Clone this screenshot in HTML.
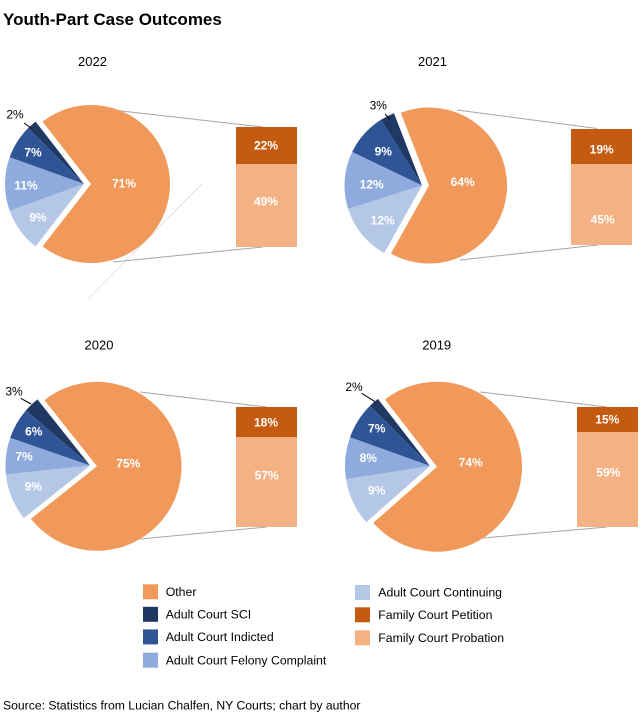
<!DOCTYPE html>
<html>
<head>
<meta charset="utf-8">
<style>
html,body{margin:0;padding:0;background:#fff;}
svg{display:block;}
text{font-family:"Liberation Sans",Arial,sans-serif;}
.t{font-size:12px;font-weight:bold;fill:#fff;text-anchor:middle;}
.k{font-size:12px;fill:#000;text-anchor:middle;}
.y{font-size:13px;fill:#000;text-anchor:middle;}
.lg{font-size:12.3px;fill:#000;}
.cl{stroke:#a6a6a6;stroke-width:1;fill:none;}
.ld{stroke:#000;stroke-width:1;}
</style>
</head>
<body>
<svg width="640" height="724" viewBox="0 0 640 724" xmlns="http://www.w3.org/2000/svg">
<rect width="640" height="724" fill="#fff"/>
<text x="3" y="25" style="font-size:17px;font-weight:bold;fill:#000;">Youth-Part Case Outcomes</text>

<!-- faint artifact line -->
<line x1="203" y1="183" x2="87" y2="300" stroke="#dcdcdc" stroke-width="0.8"/>

<!-- ============ 2022 ============ -->
<text class="y" x="92.5" y="66">2022</text>
<line class="cl" x1="113" y1="110" x2="263" y2="127"/>
<line class="cl" x1="113" y1="262" x2="263" y2="247"/>
<path d="M91,184 L42.58,246.43 A79 79 0 1 0 42.58,121.57 Z" fill="#F0995A"/>
<path d="M84,184 L35.58,121.57 A79 79 0 0 0 28.14,128.14 Z" fill="#203864"/>
<path d="M84,184 L28.14,128.14 A79 79 0 0 0 9.67,157.24 Z" fill="#2F5597"/>
<path d="M84,184 L9.67,157.24 A79 79 0 0 0 9.67,210.76 Z" fill="#8FAADC"/>
<path d="M84,184 L9.67,210.76 A79 79 0 0 0 35.58,246.43 Z" fill="#B4C7E7"/>
<rect x="236" y="127" width="61" height="37" fill="#C55A11"/>
<rect x="236" y="164" width="61" height="83" fill="#F4B183"/>
<text class="t" x="124" y="187.3">71%</text>
<text class="t" x="266" y="149.3">22%</text>
<text class="t" x="266" y="205.3">49%</text>
<text class="t" x="33" y="156.3">7%</text>
<text class="t" x="26" y="189.3">11%</text>
<text class="t" x="38" y="221.3">9%</text>
<text class="k" x="15" y="118.3">2%</text>
<line class="ld" x1="24" y1="123" x2="31" y2="128"/>

<!-- ============ 2021 ============ -->
<text class="y" x="432.5" y="66">2021</text>
<line class="cl" x1="457" y1="110" x2="597" y2="128.5"/>
<line class="cl" x1="460" y1="260" x2="598" y2="245"/>
<path d="M429,185.5 L390.94,253.59 A78 78 0 1 0 400.8,112.78 Z" fill="#F0995A"/>
<path d="M422,185.5 L393.98,113.25 A77.5 77.5 0 0 0 380.93,119.78 Z" fill="#203864"/>
<path d="M422,185.5 L380.93,119.78 A77.5 77.5 0 0 0 352.11,152.01 Z" fill="#2F5597"/>
<path d="M422,185.5 L352.11,152.01 A77.5 77.5 0 0 0 348.13,208.94 Z" fill="#8FAADC"/>
<path d="M422,185.5 L348.13,208.94 A77.5 77.5 0 0 0 384.19,253.15 Z" fill="#B4C7E7"/>
<rect x="571" y="129" width="61" height="35" fill="#C55A11"/>
<rect x="571" y="164" width="61" height="81" fill="#F4B183"/>
<text class="t" x="462.7" y="186">64%</text>
<text class="t" x="601.7" y="153.6">19%</text>
<text class="t" x="602.7" y="223.3">45%</text>
<text class="t" x="383.3" y="155.3">9%</text>
<text class="t" x="371.7" y="188.3">12%</text>
<text class="t" x="382.7" y="224.3">12%</text>
<text class="k" x="378.3" y="109.3">3%</text>
<line class="ld" x1="385" y1="114" x2="390" y2="119.3"/>

<!-- ============ 2020 ============ -->
<text class="y" x="99" y="349.3">2020</text>
<line class="cl" x1="140" y1="392" x2="267" y2="407"/>
<line class="cl" x1="140" y1="539" x2="267" y2="527"/>
<path d="M97,466.3 L30.87,518.9 A84.5 84.5 0 1 0 44.4,400.17 Z" fill="#F0995A"/>
<path d="M90,465.5 L37.4,399.37 A84.5 84.5 0 0 0 25.94,410.4 Z" fill="#203864"/>
<path d="M90,465.5 L25.94,410.4 A84.5 84.5 0 0 0 10.16,437.85 Z" fill="#2F5597"/>
<path d="M90,465.5 L10.16,437.85 A84.5 84.5 0 0 0 5.98,474.48 Z" fill="#8FAADC"/>
<path d="M90,465.5 L5.98,474.48 A84.5 84.5 0 0 0 23.87,518.1 Z" fill="#B4C7E7"/>
<rect x="236" y="407" width="61" height="30" fill="#C55A11"/>
<rect x="236" y="437" width="61" height="90" fill="#F4B183"/>
<text class="t" x="128.3" y="467.6">75%</text>
<text class="t" x="266" y="426.6">18%</text>
<text class="t" x="266.7" y="479.3">57%</text>
<text class="t" x="33.8" y="435.6">6%</text>
<text class="t" x="24" y="460.3">7%</text>
<text class="t" x="33.3" y="490.3">9%</text>
<text class="k" x="14" y="395.3">3%</text>
<line class="ld" x1="20.7" y1="398.3" x2="31.2" y2="404"/>

<!-- ============ 2019 ============ -->
<text class="y" x="436.7" y="349.3">2019</text>
<line class="cl" x1="480" y1="392" x2="607" y2="407"/>
<line class="cl" x1="483" y1="538" x2="607" y2="527"/>
<path d="M437,466.7 L373.24,522.91 A85 85 0 1 0 384.9,399.53 Z" fill="#F0995A"/>
<path d="M430,466 L377.9,398.83 A85 85 0 0 0 369.9,405.9 Z" fill="#203864"/>
<path d="M430,466 L369.9,405.9 A85 85 0 0 0 350.02,437.21 Z" fill="#2F5597"/>
<path d="M430,466 L350.02,437.21 A85 85 0 0 0 346.05,479.3 Z" fill="#8FAADC"/>
<path d="M430,466 L346.05,479.3 A85 85 0 0 0 366.24,522.21 Z" fill="#B4C7E7"/>
<rect x="577" y="407" width="61" height="25" fill="#C55A11"/>
<rect x="577" y="432" width="61" height="95" fill="#F4B183"/>
<text class="t" x="470.7" y="466.6">74%</text>
<text class="t" x="607.3" y="423.6">15%</text>
<text class="t" x="608.3" y="476.6">59%</text>
<text class="t" x="376.7" y="432.6">7%</text>
<text class="t" x="368.3" y="462">8%</text>
<text class="t" x="376.7" y="494.3">9%</text>
<text class="k" x="354" y="391">2%</text>
<line class="ld" x1="361.7" y1="393.3" x2="375" y2="401.7"/>

<!-- ============ Legend ============ -->
<rect x="143" y="584.3" width="15" height="15" fill="#F0995A"/>
<text class="lg" x="165.7" y="595.8">Other</text>
<rect x="143" y="606.8" width="15" height="15" fill="#203864"/>
<text class="lg" x="165.7" y="618.4">Adult Court SCI</text>
<rect x="143" y="629.4" width="15" height="15" fill="#2F5597"/>
<text class="lg" x="165.7" y="641">Adult Court Indicted</text>
<rect x="143" y="652.7" width="15" height="15" fill="#8FAADC"/>
<text class="lg" x="165.7" y="664.3">Adult Court Felony Complaint</text>

<rect x="355" y="585" width="15" height="15" fill="#B4C7E7"/>
<text class="lg" x="378.3" y="596.7">Adult Court Continuing</text>
<rect x="355" y="607.3" width="15" height="15" fill="#C55A11"/>
<text class="lg" x="378.3" y="619">Family Court Petition</text>
<rect x="355" y="630.3" width="15" height="15" fill="#F4B183"/>
<text class="lg" x="378.3" y="642">Family Court Probation</text>

<text x="3" y="709.5" style="font-size:12.2px;fill:#000;">Source: Statistics from Lucian Chalfen, NY Courts; chart by author</text>
</svg>
</body>
</html>
